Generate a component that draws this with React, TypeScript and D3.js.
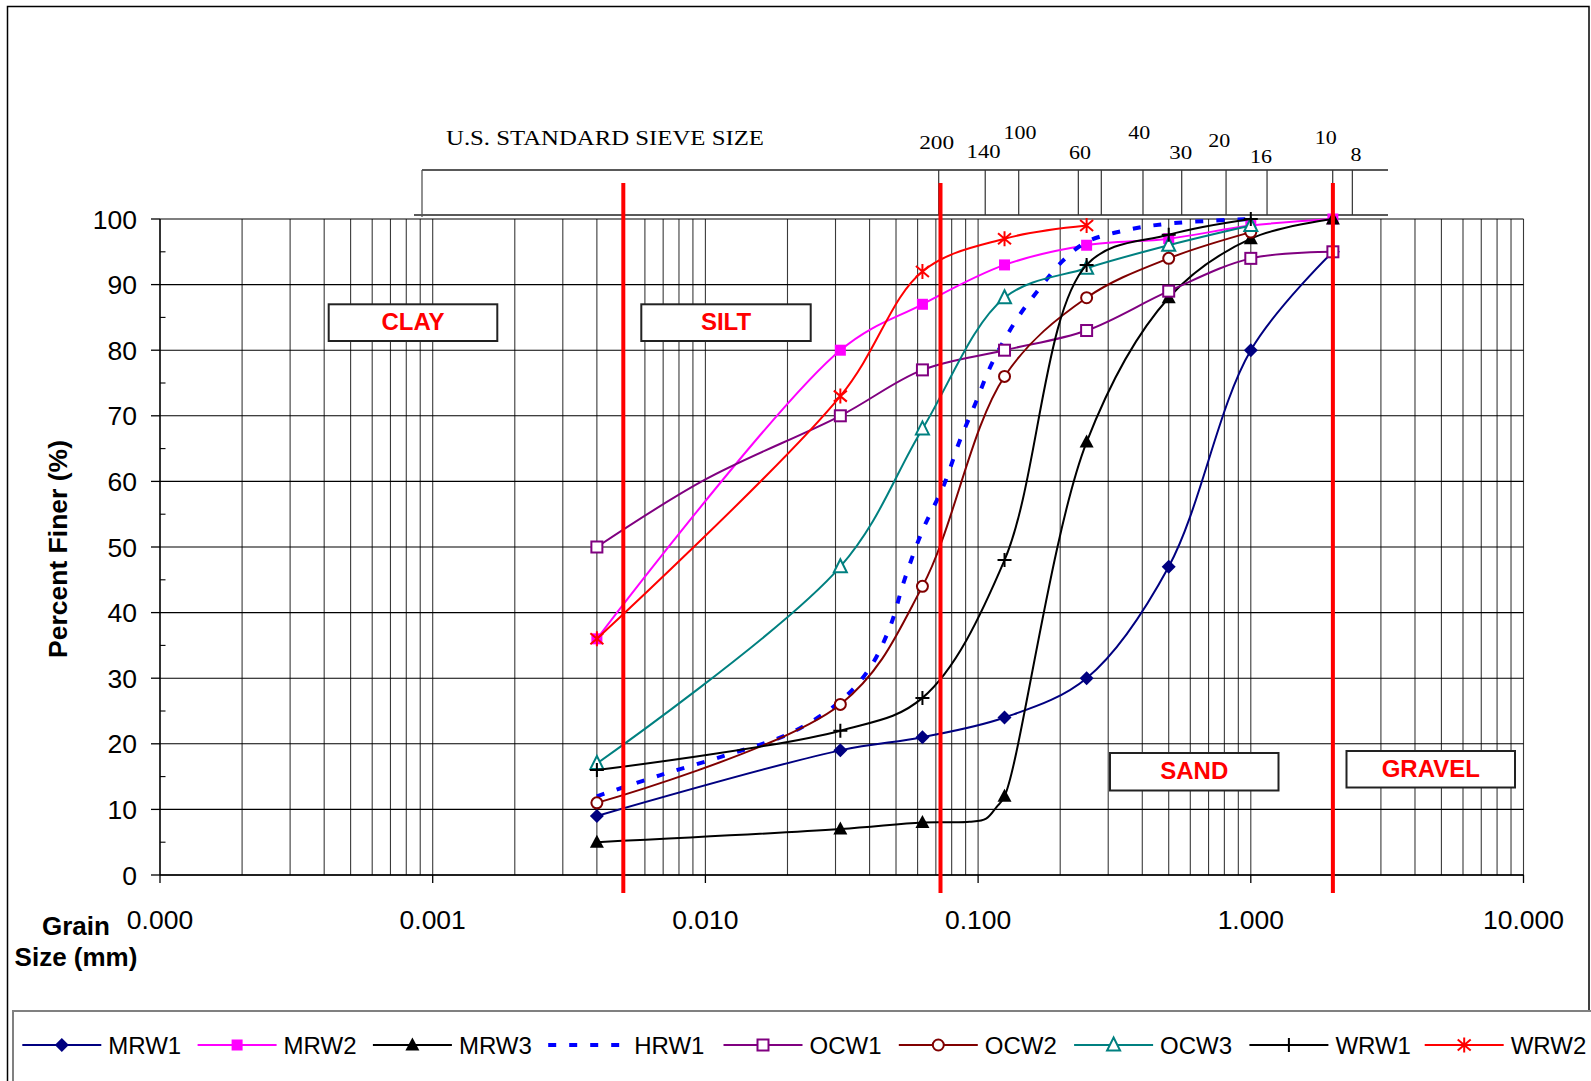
import React from 'react';
import * as d3 from 'd3';

// ---------- data ----------
const SIZES = [0.004, 0.03125, 0.0625, 0.125, 0.25, 0.5, 1, 2]; // grain size (mm) of the marked points
const MRW1 = [9, 19, 21, 24, 30, 47, 80, 95];
const MRW2 = [36, 80, 87, 93, 96, 97, 99, 100];
const MRW3 = [5, 7, 8, 12, 66, 88, 97, 100];
const MRW3_EXTRA: [number, number][] = [[0.093, 8.1], [0.107, 8.6], [0.117, 10.4]];
const OCW1 = [50, 70, 77, 80, 83, 89, 94, 95];
const OCW1_EXTRA: [number, number][] = [[0.01, 60.3]];
const OCW2 = [11, 26, 44, 76, 88, 94, 98];
const OCW3 = [17, 47, 68, 88, 92.5, 96, 99];
const WRW1 = [16, 22, 27, 48, 93, 97.6, 100];
const WRW2 = [36, 73, 92, 97, 99];
const HRW1_SIZE = [0.004, 0.0068, 0.012, 0.0204, 0.03125, 0.04, 0.0475, 0.0537, 0.0625, 0.075, 0.0853, 0.098, 0.1124, 0.14, 0.168, 0.203, 0.25, 0.35, 0.5, 1];
const HRW1 = [12, 15.2, 18.3, 21.6, 26.5, 31.5, 37.8, 45, 52.5, 59.5, 66, 72, 78, 85, 89.4, 93.5, 96.5, 98.3, 99.3, 100];

const X_TICKS = [0.0001, 0.001, 0.01, 0.1, 1, 10];
const X_TICK_LABELS = ['0.000', '0.001', '0.010', '0.100', '1.000', '10.000'];
const Y_TICKS = [0, 10, 20, 30, 40, 50, 60, 70, 80, 90, 100];
const SIEVE_NO = ['200', '140', '100', '60', '', '40', '30', '20', '16', '10', '8'];
const SIEVE_MM = [0.0717, 0.1062, 0.1409, 0.2331, 0.283, 0.4024, 0.558, 0.8115, 1.147, 1.997, 2.357];
const BOUNDARIES = [0.005, 0.0728, 2.0];
const ZONE_LABELS = ['CLAY', 'SILT', 'SAND', 'GRAVEL'];

// ---------- layout ----------
const W = 1591, H = 1081;
const PL = 160, PR = 1523.5, PT = 219, PB = 875;
const SIEVE_LABEL_DX = [-2, -1.6, 1.3, 1.7, 0, -3.7, -1, -6.7, -6, -7, 3.7];
const SIEVE_LABEL_Y = [149, 158, 139, 159, 0, 139, 159, 147, 163, 144, 161];
const SIEVE_LABEL_W = [35, 34, 33, 22, 0, 22, 23, 22, 22, 22, 11];
const ZONE_BOX = [[328.7, 304.3, 168.6, 36.7], [641.3, 304.3, 169.4, 36.7], [1110, 753, 168.5, 37.5], [1346.5, 751, 168.5, 36.5]];

type MarkerType = 'diamond' | 'square' | 'triangle' | 'osquare' | 'ocircle' | 'otriangle' | 'plus' | 'star' | 'none';

interface Series {
  name: string;
  color: string;
  marker: MarkerType;
  pts: [number, number][];
  marks: [number, number][];
  dash?: string;
  width: number;
}

const zipSizes = (vals: number[]): [number, number][] => vals.map((v, i) => [SIZES[i], v]);
const withExtra = (base: [number, number][], extra: [number, number][]) =>
  [...base, ...extra].sort((a, b) => a[0] - b[0]);

const SERIES: Series[] = [
  { name: 'MRW1', color: '#000080', marker: 'diamond', pts: zipSizes(MRW1), marks: zipSizes(MRW1), width: 2 },
  { name: 'MRW2', color: '#FF00FF', marker: 'square', pts: zipSizes(MRW2), marks: zipSizes(MRW2), width: 2 },
  { name: 'MRW3', color: '#000000', marker: 'triangle', pts: withExtra(zipSizes(MRW3), MRW3_EXTRA), marks: zipSizes(MRW3), width: 2 },
  { name: 'HRW1', color: '#0000FF', marker: 'none', pts: HRW1_SIZE.map((s, i) => [s, HRW1[i]] as [number, number]), marks: [], dash: '8,13', width: 4 },
  { name: 'OCW1', color: '#800080', marker: 'osquare', pts: withExtra(zipSizes(OCW1), OCW1_EXTRA), marks: zipSizes(OCW1), width: 2 },
  { name: 'OCW2', color: '#800000', marker: 'ocircle', pts: zipSizes(OCW2), marks: zipSizes(OCW2), width: 2 },
  { name: 'OCW3', color: '#008080', marker: 'otriangle', pts: zipSizes(OCW3), marks: zipSizes(OCW3), width: 2 },
  { name: 'WRW1', color: '#000000', marker: 'plus', pts: zipSizes(WRW1), marks: zipSizes(WRW1), width: 2 },
  { name: 'WRW2', color: '#FF0000', marker: 'star', pts: zipSizes(WRW2), marks: zipSizes(WRW2), width: 2 },
];

const SANS = '"Liberation Sans", Arial, sans-serif';
const SERIF = '"Liberation Serif", "Times New Roman", serif';

function Marker({ type, x, y, color }: { type: MarkerType; x: number; y: number; color: string }) {
  switch (type) {
    case 'diamond':
      return <path d={`M${x},${y - 7}L${x + 7},${y}L${x},${y + 7}L${x - 7},${y}Z`} fill={color} />;
    case 'square':
      return <rect x={x - 5.5} y={y - 5.5} width={11} height={11} fill={color} />;
    case 'triangle':
      return <path d={`M${x},${y - 7.5}L${x + 7},${y + 5.5}L${x - 7},${y + 5.5}Z`} fill={color} />;
    case 'osquare':
      return <rect x={x - 5.5} y={y - 5.5} width={11} height={11} fill="#fff" stroke={color} strokeWidth={2} />;
    case 'ocircle':
      return <circle cx={x} cy={y} r={5.5} fill="#fff" stroke={color} strokeWidth={2} />;
    case 'otriangle':
      return <path d={`M${x},${y - 7.5}L${x + 6.5},${y + 5.5}L${x - 6.5},${y + 5.5}Z`} fill="#fff" stroke={color} strokeWidth={2} />;
    case 'plus':
      return <path d={`M${x - 7},${y}H${x + 7}M${x},${y - 7}V${y + 7}`} stroke={color} strokeWidth={2} fill="none" />;
    case 'star':
      return (
        <path
          d={`M${x},${y - 7.5}V${y + 7.5}M${x - 6.5},${y - 5.5}L${x + 6.5},${y + 5.5}M${x + 6.5},${y - 5.5}L${x - 6.5},${y + 5.5}`}
          stroke={color}
          strokeWidth={2}
          fill="none"
        />
      );
    default:
      return null;
  }
}

export default function App() {
  const x = d3.scaleLog().domain([1e-4, 10]).range([PL, PR]);
  const y = d3.scaleLinear().domain([0, 100]).range([PB, PT]);

  const vGrid: number[] = [];
  for (let e = -4; e <= 0; e++) for (let k = 1; k <= 9; k++) vGrid.push(k * Math.pow(10, e));
  vGrid.push(10);

  const line = d3
    .line<[number, number]>()
    .x((d) => x(d[0]))
    .y((d) => y(d[1]))
    .curve(d3.curveCatmullRom.alpha(0.5));

  const minorY = d3.range(5, 100, 10);

  const sieveLeft = 422, sieveRight = 1388, sieveTop = 170, sieveBottom = 215;

  const legendX0 = 22.3, legendStep = 175.3, legendY = 1045, legendLineLen = 79;

  return (
    <div style={{ position: 'absolute', left: 0, top: 0, width: W, height: H, overflow: 'hidden' }}>
      <svg width={W} height={H} viewBox={`0 0 ${W} ${H}`} style={{ display: 'block' }}>
        <rect x={0} y={0} width={W} height={H} fill="#fff" />
        {/* outer chart frame */}
        <rect x={7.5} y={6.5} width={1581.5} height={1100} fill="none" stroke="#000" strokeWidth={1.5} />

        {/* vertical grid */}
        {vGrid.map((v, i) => (
          <line key={'vg' + i} x1={x(v)} x2={x(v)} y1={PT} y2={PB} stroke="#3a3a3a" strokeWidth={1.1} />
        ))}
        {/* horizontal grid */}
        {Y_TICKS.map((v) => (
          <line key={'hg' + v} x1={PL} x2={PR} y1={y(v)} y2={y(v)} stroke="#000" strokeWidth={1.1} />
        ))}

        {/* axes */}
        <line x1={PL} x2={PL} y1={PT} y2={PB} stroke="#000" strokeWidth={1.3} />
        <line x1={PL} x2={PR} y1={PB} y2={PB} stroke="#000" strokeWidth={1.3} />
        {Y_TICKS.map((v) => (
          <line key={'yt' + v} x1={151} x2={PL} y1={y(v)} y2={y(v)} stroke="#000" strokeWidth={1.3} />
        ))}
        {minorY.map((v) => (
          <line key={'ym' + v} x1={PL} x2={PL + 5.5} y1={y(v)} y2={y(v)} stroke="#000" strokeWidth={1.1} />
        ))}
        {X_TICKS.map((v) => (
          <line key={'xt' + v} x1={x(v)} x2={x(v)} y1={PB} y2={PB + 8} stroke="#000" strokeWidth={1.3} />
        ))}
        {Y_TICKS.map((v) => (
          <text key={'yl' + v} x={137} y={y(v) + 9.5} textAnchor="end" fontFamily={SANS} fontSize={26.5} fill="#000">
            {v}
          </text>
        ))}
        {X_TICKS.map((v, i) => (
          <text key={'xl' + v} x={x(v)} y={929} textAnchor="middle" fontFamily={SANS} fontSize={26.5} fill="#000">
            {X_TICK_LABELS[i]}
          </text>
        ))}

        {/* axis titles */}
        <text
          transform={`translate(67,549) rotate(-90)`}
          textAnchor="middle"
          fontFamily={SANS}
          fontWeight="bold"
          fontSize={26.5}
          fill="#000"
        >
          Percent Finer (%)
        </text>
        <text x={76} y={935} textAnchor="middle" fontFamily={SANS} fontWeight="bold" fontSize={26} fill="#000">
          Grain
        </text>
        <text x={76} y={966} textAnchor="middle" fontFamily={SANS} fontWeight="bold" fontSize={26} fill="#000">
          Size (mm)
        </text>

        {/* sieve size axis */}
        <line x1={sieveLeft} x2={sieveRight} y1={sieveTop} y2={sieveTop} stroke="#222" strokeWidth={1.3} />
        <line x1={414} x2={sieveRight} y1={sieveBottom} y2={sieveBottom} stroke="#222" strokeWidth={1.3} />
        <line x1={sieveLeft} x2={sieveLeft} y1={sieveTop} y2={sieveBottom + 2} stroke="#555" strokeWidth={1.3} />
        {SIEVE_MM.map((v, i) => (
          <line key={'st' + i} x1={x(v)} x2={x(v)} y1={sieveTop} y2={sieveBottom} stroke="#333" strokeWidth={1.2} />
        ))}
        {SIEVE_NO.map((n, i) =>
          n ? (
            <text
              key={'sl' + i}
              x={x(SIEVE_MM[i]) + SIEVE_LABEL_DX[i] - SIEVE_LABEL_W[i] / 2}
              y={SIEVE_LABEL_Y[i]}
              fontFamily={SERIF}
              fontSize={19.5}
              textLength={SIEVE_LABEL_W[i]}
              lengthAdjust="spacingAndGlyphs"
              fill="#000"
            >
              {n}
            </text>
          ) : null
        )}
        <text
          x={446}
          y={145}
          fontFamily={SERIF}
          fontSize={20}
          textLength={318}
          lengthAdjust="spacingAndGlyphs"
          fill="#000"
        >
          U.S. STANDARD SIEVE SIZE
        </text>

        {/* series */}
        {SERIES.map((s) => (
          <g key={s.name}>
            <path
              d={line(s.pts) || ''}
              fill="none"
              stroke={s.color}
              strokeWidth={s.width}
              strokeDasharray={s.dash}
              strokeLinejoin="round"
            />
            {s.marks.map((d, i) => (
              <Marker key={i} type={s.marker} x={x(d[0])} y={y(d[1])} color={s.color} />
            ))}
          </g>
        ))}

        {/* soil class boundaries */}
        {BOUNDARIES.map((b) => (
          <line key={'b' + b} x1={x(b)} x2={x(b)} y1={183} y2={893} stroke="#FF0000" strokeWidth={4} />
        ))}

        {/* zone labels */}
        {ZONE_LABELS.map((t, i) => {
          const [bx, by, bw, bh] = ZONE_BOX[i];
          return (
            <g key={t}>
              <rect x={bx} y={by} width={bw} height={bh} fill="#fff" stroke="#222" strokeWidth={2} />
              <text
                x={bx + bw / 2}
                y={by + 26}
                textAnchor="middle"
                fontFamily={SANS}
                fontWeight="bold"
                fontSize={24}
                fill="#FF0000"
              >
                {t}
              </text>
            </g>
          );
        })}

        {/* legend */}
        <rect x={13} y={1011} width={1700} height={200} fill="#fff" stroke="#808080" strokeWidth={2} />
        {SERIES.map((s, i) => {
          const lx = legendX0 + i * legendStep;
          return (
            <g key={'lg' + s.name}>
              <line
                x1={lx}
                x2={lx + legendLineLen}
                y1={legendY}
                y2={legendY}
                stroke={s.color}
                strokeWidth={s.width}
                strokeDasharray={s.dash}
              />
              <Marker type={s.marker} x={lx + legendLineLen / 2} y={legendY} color={s.color} />
              <text x={lx + legendLineLen + 7} y={legendY + 8.5} fontFamily={SANS} fontSize={24} fill="#000">
                {s.name}
              </text>
            </g>
          );
        })}
      </svg>
    </div>
  );
}
